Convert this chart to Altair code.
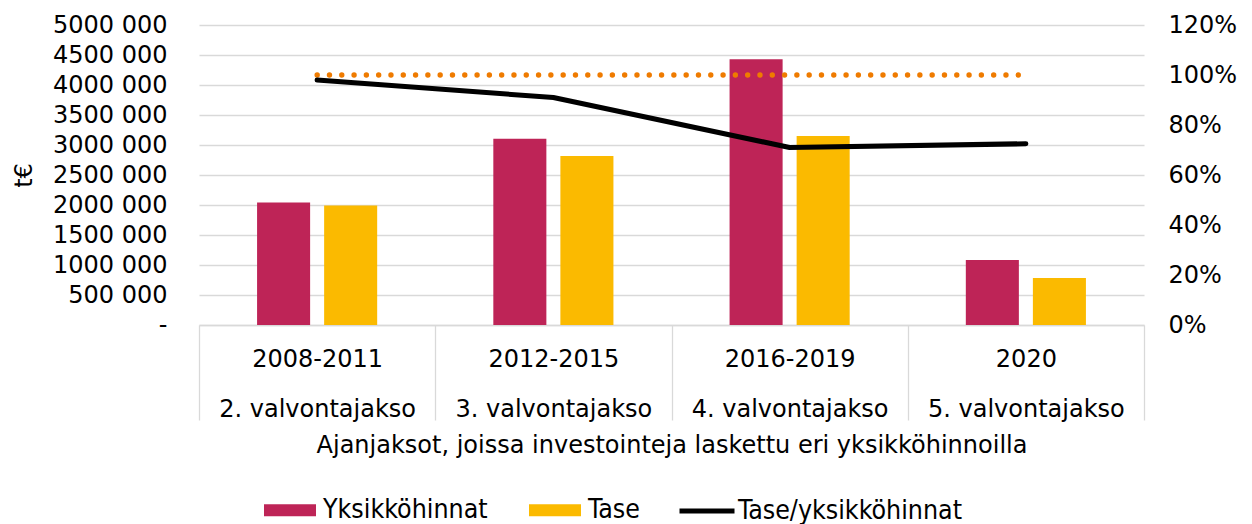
import altair as alt
import pandas as pd

# ---- data ----
periods = ["2008-2011", "2012-2015", "2016-2019", "2020"]
jaksot = ["2. valvontajakso", "3. valvontajakso", "4. valvontajakso", "5. valvontajakso"]
series_names = ["Yksikköhinnat", "Tase"]
yksikkohinnat = [2040000, 3105000, 4430000, 1085000]
tase = [1990000, 2815000, 3150000, 785000]
line_name = "Tase/yksikköhinnat"
suhde = [0.98, 0.91, 0.71, 0.725]
viite = [1.0, 1.0, 1.0, 1.0]
left_ticks = [0, 500000, 1000000, 1500000, 2000000, 2500000, 3000000, 3500000, 4000000, 4500000, 5000000]
right_ticks = [0, 0.2, 0.4, 0.6, 0.8, 1.0, 1.2]
x_title = "Ajanjaksot, joissa investointeja laskettu eri yksikköhinnoilla"
y_title = "t€"

cats = [f"{p}|{j}" for p, j in zip(periods, jaksot)]

bars_df = pd.DataFrame({
    "cat": cats * 2,
    "series": [series_names[0]] * 4 + [series_names[1]] * 4,
    "value": yksikkohinnat + tase,
})
line_df = pd.DataFrame({
    "cat": cats,
    "ratio": suhde,
    "ref": viite,
    "name": [line_name] * 4,
})

# ---- styles ----
FONT = "DejaVu Sans"
LEGEND_FONT = "DejaVu Sans Condensed"
GRID = "#D9D9D9"
CRIMSON = "#BE2457"
GOLD = "#FBBA00"
ORANGE = "#EF7B00"
FS = 24
LFS = 26.5

x_enc = alt.X(
    "cat:N",
    sort=cats,
    scale=alt.Scale(paddingInner=0, paddingOuter=0),
    axis=alt.Axis(
        title=x_title,
        labelExpr="split(datum.label, '|')",
        labelAngle=0,
        labelBaseline="top",
        labelLineHeight=50,
        labelPadding=-73,
        labelLimit=400,
        labelOverlap=False,
        labelFont=FONT,
        labelFontSize=FS,
        labelColor="black",
        tickBand="extent",
        tickSize=95,
        tickColor=GRID,
        tickWidth=1.3,
        domainColor=GRID,
        domainWidth=1.3,
        grid=False,
        titleFont=FONT,
        titleFontSize=FS,
        titleFontWeight="normal",
        titleColor="black",
        titlePadding=12,
    ),
)

left_label_expr = (
    "datum.value == 0 ? '-\u00a0\u00a0' : "
    "floor(datum.value / 1000) + ' ' + format(datum.value % 1000, '03d')"
)

bars = alt.Chart(bars_df).mark_bar().encode(
    x=x_enc,
    xOffset=alt.XOffset(
        "series:N",
        sort=series_names,
        scale=alt.Scale(paddingInner=0.209, paddingOuter=0.866),
    ),
    y=alt.Y(
        "value:Q",
        scale=alt.Scale(domain=[0, 5000000], nice=False),
        axis=alt.Axis(
            values=left_ticks,
            labelExpr=left_label_expr,
            title=y_title,
            grid=True,
            gridColor=GRID,
            gridWidth=1.3,
            domain=False,
            ticks=False,
            labelPadding=32,
            labelFont=FONT,
            labelFontSize=FS,
            labelColor="black",
            titleFont=FONT,
            titleFontSize=FS,
            titleFontWeight="normal",
            titleColor="black",
            titlePadding=16,
        ),
    ),
    color=alt.Color(
        "series:N",
        sort=series_names,
        scale=alt.Scale(domain=series_names, range=[CRIMSON, GOLD]),
        legend=alt.Legend(
            title=None,
            orient="none",
            direction="horizontal",
            legendX=65,
            legendY=459,
            padding=0,
            symbolType="M-1,-0.23H1V0.23H-1Z",
            symbolSize=2704,
            symbolStrokeWidth=0,
            symbolOpacity=1,
            labelOffset=7,
            columnPadding=41,
            labelFont=LEGEND_FONT,
            labelFontSize=LFS,
            labelColor="black",
            labelLimit=400,
        ),
    ),
)

right_axis = alt.Axis(
    orient="right",
    values=right_ticks,
    format=".0%",
    grid=False,
    domain=False,
    ticks=False,
    labelPadding=24,
    labelFont=FONT,
    labelFontSize=FS,
    labelColor="black",
    title=None,
)

dots = alt.Chart(line_df).mark_line(
    color=ORANGE, strokeWidth=5.3, strokeDash=[0.1, 12.2], strokeCap="round"
).encode(
    x=x_enc,
    y=alt.Y("ref:Q", scale=alt.Scale(domain=[0, 1.2], nice=False), axis=right_axis),
)

line = alt.Chart(line_df).mark_line(
    strokeWidth=5, strokeCap="round", strokeJoin="round"
).encode(
    x=x_enc,
    y=alt.Y("ratio:Q", scale=alt.Scale(domain=[0, 1.2], nice=False), axis=right_axis),
    stroke=alt.Stroke(
        "name:N",
        scale=alt.Scale(domain=[line_name], range=["black"]),
        legend=alt.Legend(
            title=None,
            orient="none",
            direction="horizontal",
            legendX=478,
            legendY=456,
            padding=0,
            symbolType="stroke",
            symbolSize=3025,
            symbolStrokeWidth=5,
            labelOffset=1,
            labelFont=LEGEND_FONT,
            labelFontSize=LFS,
            labelColor="black",
            labelLimit=400,
        ),
    ),
)

chart = (
    alt.layer(bars, alt.layer(dots, line))
    .resolve_scale(y="independent")
    .properties(
        width=945,
        height=300,
        padding={"left": 191, "top": 17, "right": 100, "bottom": 205},
        autosize=alt.AutoSizeParams(type="none"),
    )
    .configure_view(stroke=None)
)

chart.save("out.html", embed_options={"renderer": "svg", "actions": False})
